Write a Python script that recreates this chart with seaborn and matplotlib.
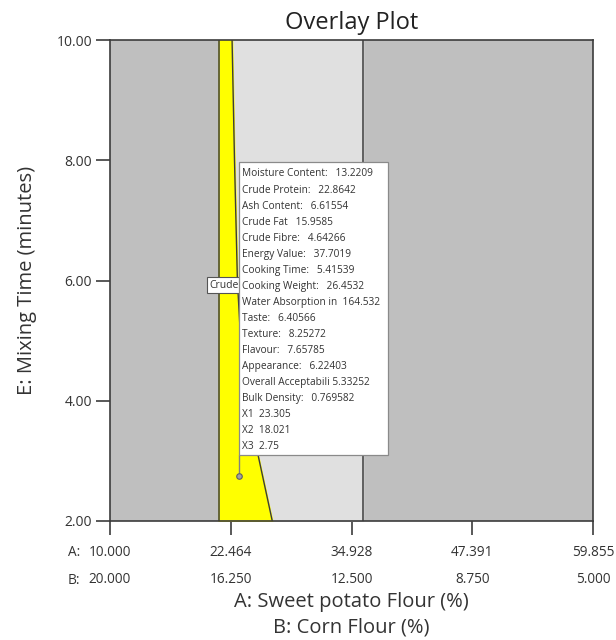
import matplotlib
matplotlib.use("Agg")
import matplotlib.pyplot as plt
from matplotlib.patches import Rectangle
import pandas as pd
import seaborn as sns

# ---------------- data ----------------
a_ticks = [10.000, 22.464, 34.928, 47.391, 59.855]
b_ticks = [20.000, 16.250, 12.500, 8.750, 5.000]
e_ticks = [2.00, 4.00, 6.00, 8.00, 10.00]

design_left_A = 21.2
design_right_A = 36.1
yellow_E = [10.0, 8.0, 6.0, 4.667, 3.833, 3.083, 2.0]
yellow_right_A = [22.6, 22.85, 23.15, 23.6, 24.3, 25.3, 26.75]

flag_labels = ["Moisture Content:", "Crude Protein:", "Ash Content:", "Crude Fat",
               "Crude Fibre:", "Energy Value:", "Cooking Time:", "Cooking Weight:",
               "Water Absorption in", "Taste:", "Texture:", "Flavour:", "Appearance:",
               "Overall Acceptabili", "Bulk Density:", "X1", "X2", "X3"]
flag_values = ["13.2209", "22.8642", "6.61554", "15.9585", "4.64266", "37.7019",
               "5.41539", "26.4532", "164.532", "6.40566", "8.25272", "7.65785",
               "6.22403", "5.33252", "0.769582", "23.305", "18.021", "2.75"]
point_A = [23.305]
point_E = [2.75]

# ---------------- style ----------------
sns.set_theme(style="white")
plt.rcParams["font.family"] = ["Open Sans", "DejaVu Sans"]
TXT = "#333333"
DARK = "#bfbfbf"
LIGHT = "#e0e0e0"
EDGE = "#3c3c3c"

L, R, T, B = 110.0, 593.0, 40.0, 521.0
fig = plt.figure(figsize=(6.16, 6.40), dpi=100)
ax = fig.add_axes([L / 616, 1 - B / 640, (R - L) / 616, (B - T) / 640])

xmin, xmax = a_ticks[0], a_ticks[-1]
ymin, ymax = e_ticks[0], e_ticks[-1]
ax.set_xlim(xmin, xmax)
ax.set_ylim(ymin, ymax)
ax.set_facecolor(DARK)

def px2a(px):
    return xmin + (px - L) / (R - L) * (xmax - xmin)

def py2e(py):
    return ymax - (py - T) / (B - T) * (ymax - ymin)

# light gray design region
ax.fill_betweenx([ymin, ymax], design_left_A, design_right_A, color=LIGHT, zorder=1)
ax.plot([design_right_A, design_right_A], [ymin, ymax], color=EDGE, lw=1.1, zorder=2)

# yellow feasible region
ax.fill_betweenx(yellow_E, design_left_A, yellow_right_A, color="#ffff00", zorder=2)
bdf = pd.DataFrame({"A": yellow_right_A, "E": yellow_E})
sns.lineplot(data=bdf, x="A", y="E", sort=False, estimator=None, color=EDGE,
             lw=1.0, ax=ax, zorder=3)
ax.plot([design_left_A, design_left_A], [ymin, ymax], color=EDGE, lw=1.1, zorder=3)

# small hidden flag "Crude"
ax.text(px2a(209), py2e(285), "Crude", fontsize=7.5, color=TXT, ha="left", va="center",
        zorder=4, bbox=dict(boxstyle="square,pad=0.2", fc="white", ec="#555555", lw=0.8))

# main flag box
bx0, bx1 = px2a(239), px2a(388)
by0, by1 = py2e(455), py2e(162)
ax.add_patch(Rectangle((bx0, by0), bx1 - bx0, by1 - by0, facecolor="white",
                       edgecolor="#8a8a8a", lw=0.9, zorder=6))
gaps = {"Water Absorption in": "  ", "Overall Acceptabili": " ", "X1": "  ",
        "X2": "  ", "X3": "  "}
for i, (lab, val) in enumerate(zip(flag_labels, flag_values)):
    sep = gaps.get(lab, "   ")
    ax.text(px2a(242), py2e(174 + i * 16.05), f"{lab}{sep}{val}", fontsize=7.3,
            color=TXT, ha="left", va="center", zorder=7)

# connector and point
ax.plot([point_A[0], point_A[0]], [point_E[0], by0], color="#808080", lw=1.0, zorder=5)
pdf = pd.DataFrame({"A": point_A, "E": point_E})
sns.scatterplot(data=pdf, x="A", y="E", s=16, color="#a0a0a0", edgecolor="#606060",
                linewidth=0.8, ax=ax, zorder=8)

# axes / ticks
for s in ax.spines.values():
    s.set_color(EDGE)
    s.set_linewidth(1.2)
ax.set_xticks(a_ticks)
ax.set_xticklabels([f"{a:.3f}\n{b:.3f}" for a, b in zip(a_ticks, b_ticks)],
                   fontsize=9.8, color=TXT, linespacing=2.1)
ax.set_yticks(e_ticks)
ax.set_yticklabels([f"{e:.2f}" for e in e_ticks], fontsize=10, color=TXT)
ax.tick_params(axis="x", direction="out", length=10, width=1.2, color=EDGE, pad=7, bottom=True)
ax.tick_params(axis="y", direction="out", length=10, width=1.2, color=EDGE, pad=3, left=True)

fig.text(80 / 616, 1 - 552 / 640, "A:", fontsize=9.8, color=TXT, ha="right", va="center")
fig.text(80 / 616, 1 - 580 / 640, "B:", fontsize=9.8, color=TXT, ha="right", va="center")

ax.set_xlabel("A: Sweet potato Flour (%)\nB: Corn Flour (%)", fontsize=14.5, color=TXT,
              labelpad=4, linespacing=1.32)
ax.set_ylabel("E: Mixing Time (minutes)", fontsize=14.5, color=TXT, labelpad=14)
ax.set_title("Overlay Plot", fontsize=17, color="#222222", pad=8)

fig.savefig("out.png", dpi=100)
